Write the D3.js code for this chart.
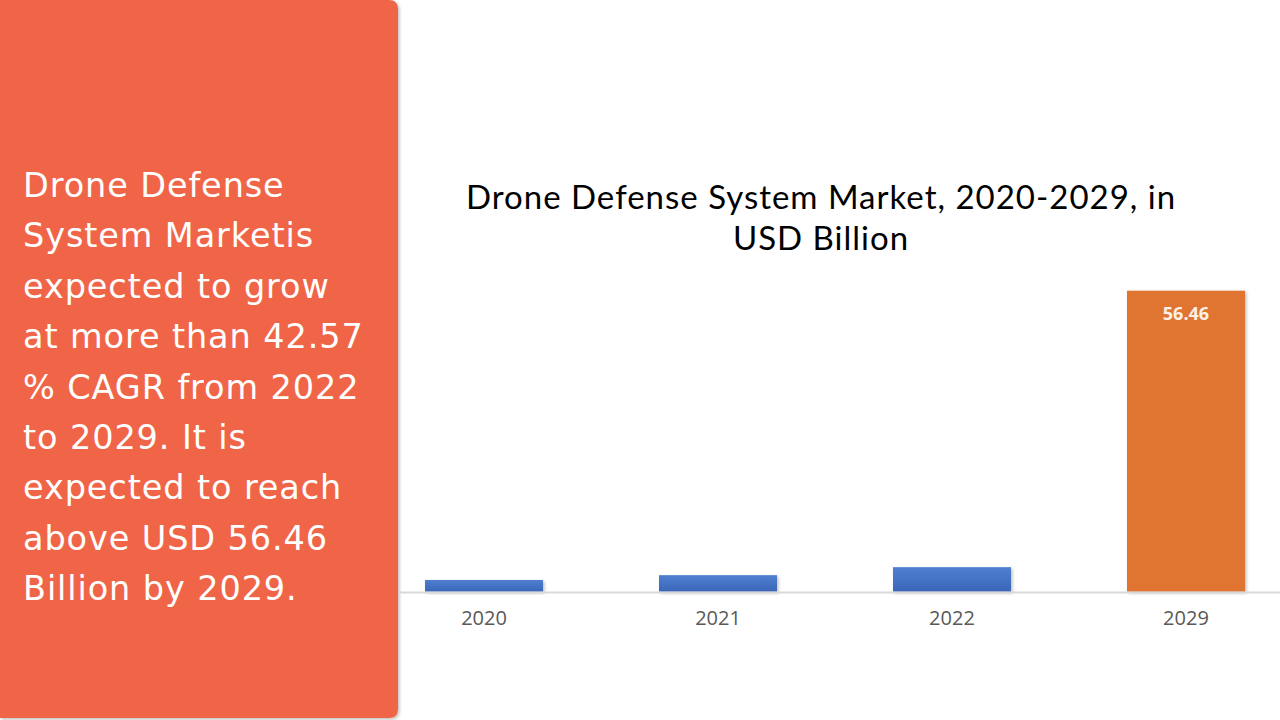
<!DOCTYPE html>
<html>
<head>
<meta charset="utf-8">
<script src="https://cdn.jsdelivr.net/npm/d3@7"></script>
<style>
html,body{margin:0;padding:0;background:#fff;}
svg{display:block;}
</style>
</head>
<body>
<svg id="chart" width="1280" height="720"></svg>
<script>
const categories = ["2020", "2021", "2022", "2029"];
const values = [2.2, 3.1, 4.6, 56.46];
const labels = ["", "", "", "56.46"];
const barColors = ["#4472C4", "#4472C4", "#4472C4", "#E07433"];
const titleLines = ["Drone Defense System Market, 2020-2029, in", "USD Billion"];
const sideLines = ["Drone Defense", "System Marketis", "expected to grow", "at more than 42.57", "% CAGR from 2022", "to 2029. It is", "expected to reach", "above USD 56.46", "Billion by 2029."];

const svg = d3.select("#chart");
const defs = svg.append("defs");
const sh = defs.append("filter").attr("id","shadow").attr("x","-10%").attr("y","-10%").attr("width","130%").attr("height","130%");
sh.append("feDropShadow").attr("dx",1.5).attr("dy",1.5).attr("stdDeviation",1.5).attr("flood-color","#000").attr("flood-opacity",0.25);
const bg = defs.append("linearGradient").attr("id","blueGrad").attr("x1",0).attr("y1",0).attr("x2",0).attr("y2",1);
bg.append("stop").attr("offset","0%").attr("stop-color","#4F7FD0");
bg.append("stop").attr("offset","100%").attr("stop-color","#3A66B8");

// Left panel (rounded right corners)
const pw = 398, ph = 718, r = 9;
svg.append("path")
  .attr("d", `M0,0 H${pw-r} Q${pw},0 ${pw},${r} V${ph-r} Q${pw},${ph} ${pw-r},${ph} H0 Z`)
  .attr("fill", "#F06546")
  .attr("filter","url(#shadow)");

svg.append("g").selectAll("text").data(sideLines).join("text")
  .attr("x", 23)
  .attr("y", (d,i) => 197 + i*50.4)
  .attr("fill", "#fff")
  .attr("font-family", "'DejaVu Sans', sans-serif")
  .attr("font-size", 33.5)
  .attr("letter-spacing", 0.9)
  .attr("font-weight", 400)
  .text(d => d);

// Title
svg.append("g").selectAll("text").data(titleLines).join("text")
  .attr("x", 821)
  .attr("y", (d,i) => 209 + i*40.5)
  .attr("text-anchor","middle")
  .attr("fill","#000")
  .attr("font-family","Lato, sans-serif")
  .attr("font-size", 33)
  .attr("letter-spacing", 1)
  .text(d => d);

// Scales
const x = d3.scaleBand().domain(categories).range([367, 1303]).paddingInner(0.4957).paddingOuter(0.2479);
const y = d3.scaleLinear().domain([0, 56.46]).range([591.7, 290.7]);

// Bars
svg.append("g").selectAll("rect").data(categories).join("rect")
  .attr("x", d => x(d))
  .attr("width", x.bandwidth())
  .attr("y", (d,i) => y(values[i]))
  .attr("height", (d,i) => y(0) - y(values[i]))
  .attr("fill", (d,i) => i < 3 ? "url(#blueGrad)" : barColors[i])
  .attr("filter","url(#shadow)");

// Axis
const axis = svg.append("g").attr("transform", `translate(0,${y(0)+0.8})`)
  .call(d3.axisBottom(x).tickSize(0).tickPadding(18));
axis.select(".domain").attr("d", "M400,0H1280").attr("stroke","#D9D9D9").attr("stroke-width",2);
axis.selectAll("text").attr("fill","#595959").attr("font-family","'Open Sans', sans-serif").attr("font-size",20);

// Data labels
svg.append("g").selectAll("text").data(categories).join("text")
  .attr("x", d => x(d) + x.bandwidth()/2)
  .attr("y", (d,i) => y(values[i]) + 29)
  .attr("text-anchor","middle")
  .attr("fill","#FDF0E6")
  .attr("font-family","'Open Sans', sans-serif")
  .attr("font-weight",700)
  .attr("font-size",18)
  .text((d,i) => labels[i]);
</script>
</body>
</html>
